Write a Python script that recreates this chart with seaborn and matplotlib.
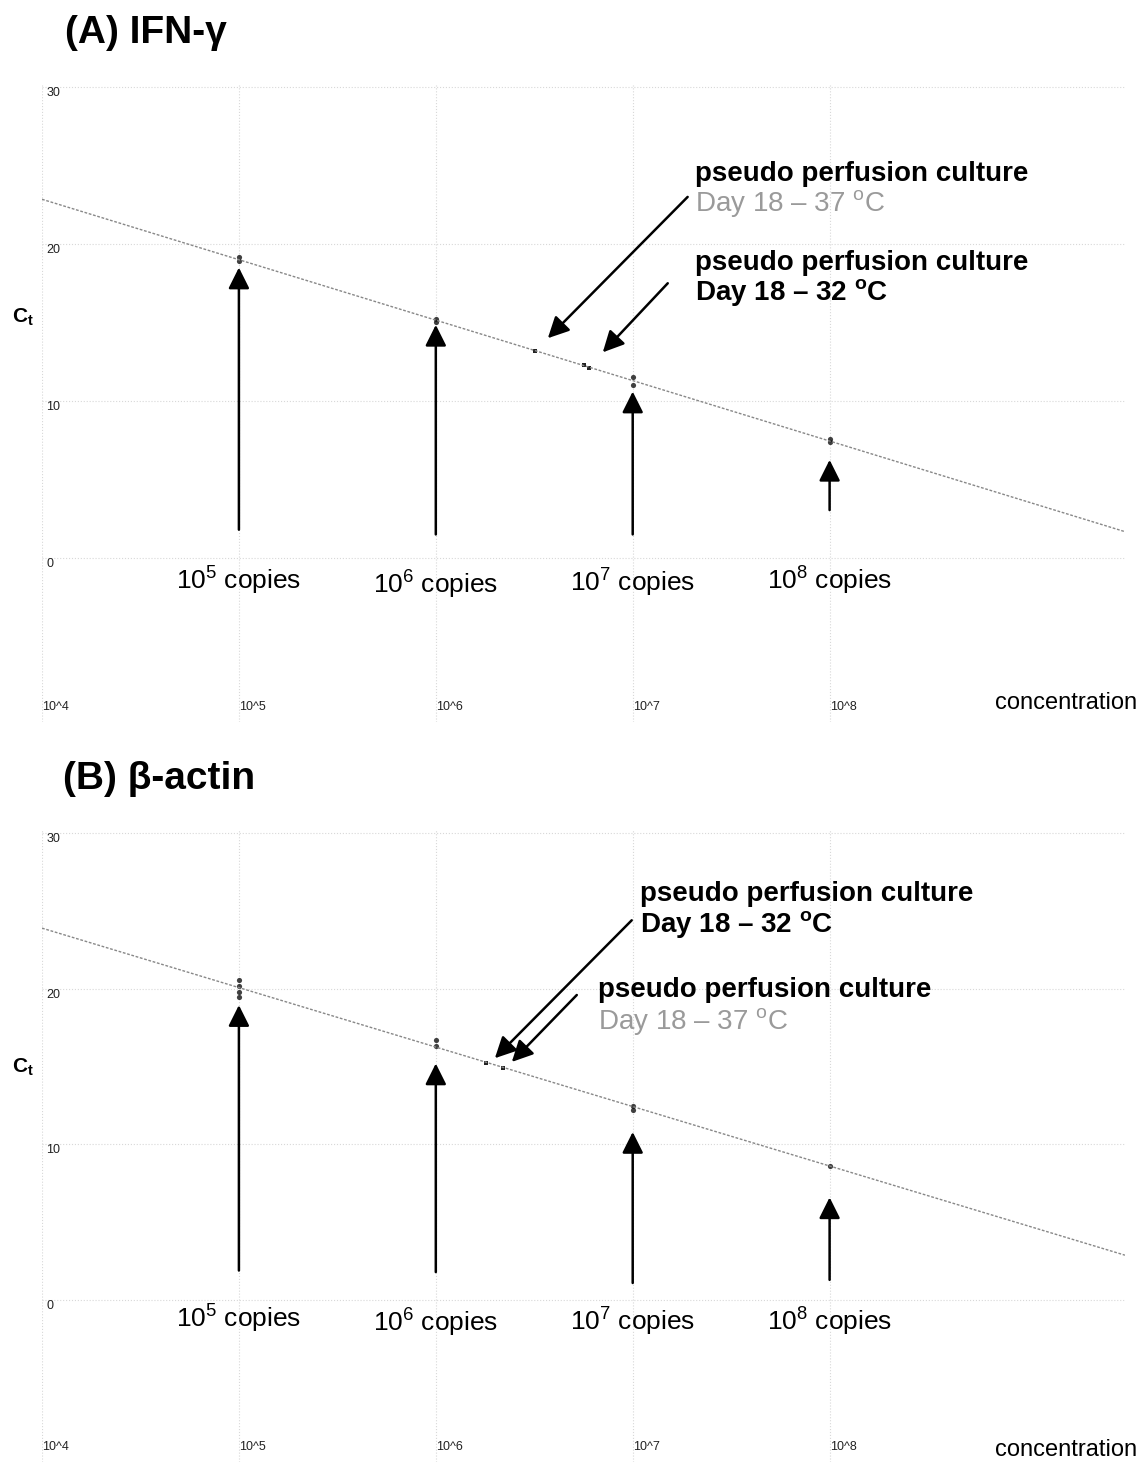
import numpy as np
import pandas as pd
import matplotlib.pyplot as plt
import seaborn as sns

# standards: log10(copies) and Ct
ifn_std_log = [5, 5, 6, 6, 7, 7, 8, 8]
ifn_std_ct = [19.2, 18.9, 15.2, 15.0, 11.5, 11.0, 7.6, 7.4]
actin_std_log = [5, 5, 5, 5, 6, 6, 7, 7, 8]
actin_std_ct = [20.55, 20.2, 19.8, 19.5, 16.7, 16.3, 12.45, 12.2, 8.6]

# pseudo perfusion culture samples
ifn_sample_log = [6.505, 6.753, 6.778]
ifn_sample_ct = [13.2, 12.3, 12.1]
actin_sample_log = [6.253, 6.343]
actin_sample_ct = [15.2, 14.9]

# arrows under the standards (tip / tail Ct) and copy labels
copy_log = [5, 6, 7, 8]
copy_labels = ["10$^5$ copies", "10$^6$ copies", "10$^7$ copies", "10$^8$ copies"]
ifn_arrow_tip = [18.5, 14.85, 10.6, 6.25]
ifn_arrow_tail = [1.8, 1.5, 1.5, 3.05]
ifn_label_ct = [-1.4, -1.6, -1.5, -1.4]
actin_arrow_tip = [18.95, 15.2, 10.8, 6.6]
actin_arrow_tail = [1.9, 1.8, 1.1, 1.3]
actin_label_ct = [-1.15, -1.4, -1.3, -1.3]

x_ticks = [4, 5, 6, 7, 8]
x_tick_labels = ["10^4", "10^5", "10^6", "10^7", "10^8"]
y_ticks = [0, 10, 20, 30]

sns.set_style("white")
plt.rcParams["font.family"] = ["Liberation Sans", "DejaVu Sans"]
plt.rcParams["mathtext.fontset"] = "custom"
plt.rcParams["mathtext.rm"] = "Liberation Sans"
plt.rcParams["mathtext.bf"] = "Liberation Sans:bold"
plt.rcParams["text.color"] = "black"

fig = plt.figure(figsize=(11.42, 14.65), dpi=100)
ax_a = fig.add_axes([0.03678, 0.50717, 0.9483, 0.43481])
ax_b = fig.add_axes([0.03678, 0.00205, 0.9483, 0.4314])

gray = "#9a9a9a"
arrow_kw = dict(arrowstyle="-|>", color="black", lw=1.8, mutation_scale=32,
                shrinkA=0, shrinkB=0)


def draw_panel(ax, std_log, std_ct, s_log, s_ct, tips, tails, lab_ct, ylim):
    ax.set_xlim(4, 9.5)
    ax.set_ylim(*ylim)
    df = pd.DataFrame({"logc": std_log, "ct": std_ct})
    sns.regplot(data=df, x="logc", y="ct", ax=ax, ci=None, truncate=False,
                scatter_kws=dict(s=14, color="#111111", marker="s", linewidths=0),
                line_kws=dict(color="#888888", lw=1.0, ls=(0, (2, 1.2))))
    sns.scatterplot(x=s_log, y=s_ct, ax=ax, s=12, color="#222222", marker="s",
                    linewidth=0)
    ax.set_xlim(4, 9.5)
    ax.set_ylim(*ylim)
    ax.set_xlabel("")
    ax.set_ylabel("")
    ax.set_xticks(x_ticks)
    ax.set_xticklabels(x_tick_labels, fontsize=9, color="#222222", ha="left")
    ax.set_yticks(y_ticks)
    ax.set_yticklabels([str(v) for v in y_ticks], fontsize=9, color="#222222",
                       ha="left", va="top")
    ax.tick_params(axis="y", length=0, pad=-3)
    ax.tick_params(axis="x", length=0, pad=-15)
    ax.grid(True, color="#d8d8d8", ls=":", lw=0.8)
    sns.despine(ax=ax, left=True, bottom=True)
    for x, tip, tail, ly, lab in zip(copy_log, tips, tails, lab_ct, copy_labels):
        ax.annotate("", xy=(x, tip), xytext=(x, tail), arrowprops=arrow_kw)
        ax.text(x, ly, lab, ha="center", va="center", fontsize=19, color="black")


draw_panel(ax_a, ifn_std_log, ifn_std_ct, ifn_sample_log, ifn_sample_ct,
           ifn_arrow_tip, ifn_arrow_tail, ifn_label_ct, (-10.45, 30.13))
draw_panel(ax_b, actin_std_log, actin_std_ct, actin_sample_log, actin_sample_ct,
           actin_arrow_tip, actin_arrow_tail, actin_label_ct, (-10.4, 30.2))

# panel A callouts
ax_a.text(7.315, 24.46, "pseudo perfusion culture", fontsize=20, weight="bold", va="center")
ax_a.text(7.315, 22.55, r"Day 18 – 37 $^{\mathrm{o}}$C", fontsize=20, color=gray, va="center")
ax_a.text(7.315, 18.8, "pseudo perfusion culture", fontsize=20, weight="bold", va="center")
ax_a.text(7.315, 16.9, r"Day 18 – 32 $^{\mathbf{o}}$C", fontsize=20, weight="bold", va="center")
ax_a.annotate("", xy=(6.569, 14.0), xytext=(7.279, 23.0), arrowprops=arrow_kw)
ax_a.annotate("", xy=(6.848, 13.1), xytext=(7.178, 17.5), arrowprops=arrow_kw)

# panel B callouts
ax_b.text(7.036, 26.1, "pseudo perfusion culture", fontsize=20, weight="bold", va="center")
ax_b.text(7.036, 24.1, r"Day 18 – 32 $^{\mathbf{o}}$C", fontsize=20, weight="bold", va="center")
ax_b.text(6.822, 19.9, "pseudo perfusion culture", fontsize=20, weight="bold", va="center")
ax_b.text(6.822, 17.85, r"Day 18 – 37 $^{\mathrm{o}}$C", fontsize=20, color=gray, va="center")
ax_b.annotate("", xy=(6.300, 15.54), xytext=(6.995, 24.4), arrowprops=arrow_kw)
ax_b.annotate("", xy=(6.386, 15.3), xytext=(6.716, 19.6), arrowprops=arrow_kw)

# titles, axis names
fig.text(65 / 1142, 1 - 33 / 1465, "(A) IFN-γ", fontsize=28, weight="bold", va="center")
fig.text(63 / 1142, 1 - 779 / 1465, "(B) β-actin", fontsize=28, weight="bold", va="center")
fig.text(23 / 1142, 1 - 317 / 1465, r"$\mathbf{C_t}$", fontsize=15, ha="center", va="center")
fig.text(23 / 1142, 1 - 1067 / 1465, r"$\mathbf{C_t}$", fontsize=15, ha="center", va="center")
fig.text(1137 / 1142, 1 - 703 / 1465, "concentration", fontsize=17, ha="right", va="center")
fig.text(1137 / 1142, 1 - 1450 / 1465, "concentration", fontsize=17, ha="right", va="center")

fig.savefig("out.png", dpi=100)
